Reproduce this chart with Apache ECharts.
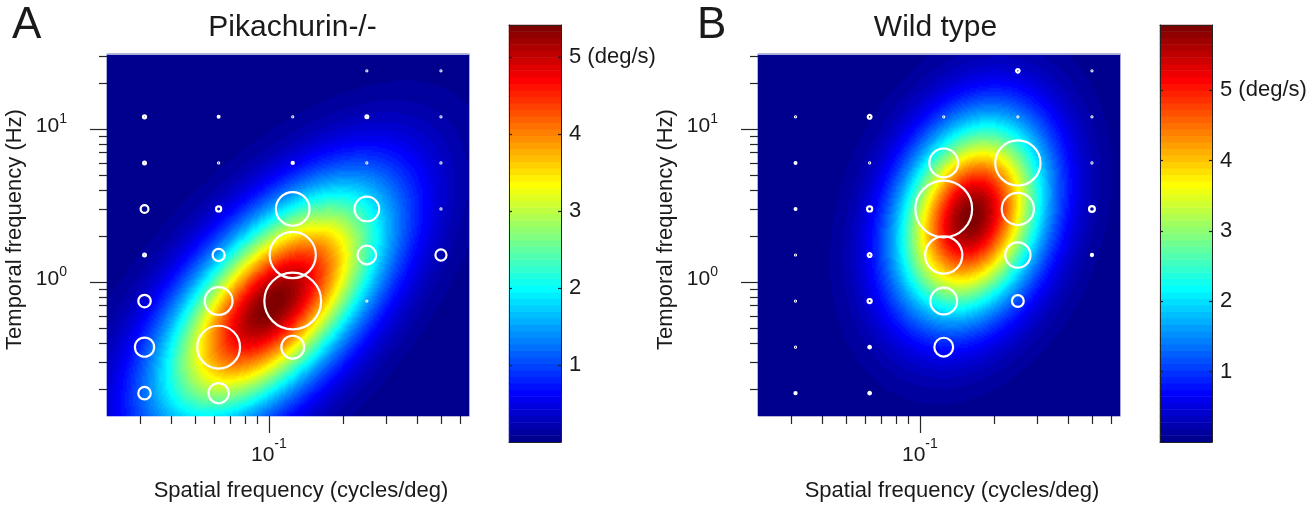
<!DOCTYPE html>
<html>
<head>
<meta charset="utf-8">
<script src="https://cdn.jsdelivr.net/npm/echarts@6/dist/echarts.min.js"></script>
<style>
html,body{margin:0;padding:0;background:#fff;}
#chart{width:1316px;height:508px;}
</style>
</head>
<body>
<div id="chart"></div>
<script>
// ---------------- data ----------------
const sfValues = [0.03125, 0.0625, 0.125, 0.25, 0.5];          // cycles/deg (columns)
const tfValues = [24, 12, 6, 3, 1.5, 0.75, 0.375, 0.1875];     // Hz (rows, top to bottom)
// response magnitudes (circle size); rows follow tfValues, columns follow sfValues
const respA = [
  [null, null, null, 1.5, 1.35],
  [2.65, 2.0, 1.35, 2.5, 1.35],
  [2.5, 1.65, 2.15, 1.35, 1.35],
  [5.0, 3.65, 17.9, 13.4, 1.35],
  [2.5, 7.15, 24.2, 10.4, 6.65],
  [7.35, 15.0, 29.5, 1.35, null],
  [10.7, 22.5, 12.5, null, null],
  [7.35, 11.2, null, null, null]
];
const respB = [
  [null, null, null, 2.85, 1.5],
  [1.65, 3.0, 1.15, 1.15, 1.5],
  [2.0, 1.15, 15.5, 23.7, 1.5],
  [2.0, 3.65, 29.5, 17.2, 4.0],
  [1.35, 3.0, 19.7, 13.7, 2.15],
  [1.35, 3.15, 14.5, 7.0, null],
  [1.5, 2.35, 10.5, null, null],
  [2.15, 2.35, null, null, null]
];
// fitted speed-tuning surfaces (parameters):
// [peak (deg/s), sf0 (c/deg), tf0 (Hz), sigma SF (oct), sigma TF (oct), xi]
const fitA = [5.42, 0.1034, 0.713, 1.0, 1.32, 1.05];
const fitB = [5.93, 0.162, 2.65, 0.66, 1.37, 0.5];
// axes
const sfRange = [0.0220, 0.650];
const tfRange = [0.133, 30.9];
const sfMajorTicks = [0.1];
const sfMinorTicks = [0.03, 0.04, 0.05, 0.06, 0.07, 0.08, 0.09, 0.2, 0.3, 0.4, 0.5, 0.6];
const tfMajorTicks = [1, 10];
const tfMinorTicks = [0.2, 0.3, 0.4, 0.5, 0.6, 0.7, 0.8, 0.9, 2, 3, 4, 5, 6, 7, 8, 9, 20, 30];
const cbTicks = [1, 2, 3, 4, 5];
const panelTitles = ['Pikachurin-/-', 'Wild type'];
const panelLetters = ['A', 'B'];
const xName = 'Spatial frequency (cycles/deg)';
const yName = 'Temporal frequency (Hz)';
const cbUnit = '(deg/s)';

// ---------------- layout ----------------
const FONT = "'Liberation Sans', Arial, Helvetica, sans-serif";
const TXT = '#1a1a1a';
const panelLeft = [107, 758];
const plotTop = 54, plotSize = 362;
const cbLeft = [509, 1160], cbTop = 25, cbW = 52, cbH = 417;
const titleCenter = [292.5, 935.5];
const letterLeft = [12, 697];
const NCELL = 181, NCOL = 64;

function surface(fit, sf, tf) {
  const [A, sf0, tf0, ssf, stf, xi] = fit;
  const u = Math.log2(sf / sf0);
  const v = Math.log2(tf / tf0) - xi * u;
  return A * Math.exp(-u * u / (2 * ssf * ssf) - v * v / (2 * stf * stf));
}
function jet(i) { // MATLAB jet(64), i = 1..64
  const c = x => Math.max(0, Math.min(1, x));
  const r = c(Math.min((i - 24) / 16, (72 - i) / 16));
  const g = c(Math.min((i - 8) / 16, (56 - i) / 16));
  const b = c(Math.min((i + 8) / 16, (40 - i) / 16));
  return 'rgb(' + Math.round(r * 255) + ',' + Math.round(g * 255) + ',' + Math.round(b * 255) + ')';
}
function pieces(max) {
  const p = [];
  for (let k = 0; k < NCOL; k++) {
    const piece = { color: jet(k + 1) };
    if (k > 0) piece.gte = k * max / NCOL;
    if (k < NCOL - 1) piece.lt = (k + 1) * max / NCOL;
    p.push(piece);
  }
  return p;
}

const lx = [Math.log10(sfRange[0]), Math.log10(sfRange[1])];
const ly = [Math.log10(tfRange[0]), Math.log10(tfRange[1])];
const cats = Array.from({ length: NCELL }, (_, i) => String(i));
const tickLine = { color: '#262626', width: 1.2 };

const grids = [], xAxes = [], yAxes = [], series = [], titles = [];
const heatIdx = [], cbIdx = [];

[respA, respB].forEach((resp, p) => {
  const fit = [fitA, fitB][p];
  const L = panelLeft[p];
  const gHeat = grids.length;
  grids.push({ left: L, top: plotTop, width: plotSize, height: plotSize });
  const gAx = grids.length;
  grids.push({ left: L, top: plotTop, width: plotSize, height: plotSize });

  const xh = xAxes.length;
  xAxes.push({ type: 'category', gridIndex: gHeat, data: cats, show: false });
  const yh = yAxes.length;
  yAxes.push({ type: 'category', gridIndex: gHeat, data: cats, show: false });

  const base = { type: 'value', gridIndex: gAx, splitLine: { show: false }, axisLine: { show: false, onZero: false } };
  // x axes
  xAxes.push(Object.assign({}, base, {
    min: lx[0], max: lx[1], position: 'bottom',
    axisTick: { show: true, customValues: sfMinorTicks.map(Math.log10), length: 8, lineStyle: tickLine },
    axisLabel: { show: false }
  }));
  const xm = xAxes.length;
  xAxes.push(Object.assign({}, base, {
    min: lx[0], max: lx[1], position: 'bottom',
    axisTick: { show: true, customValues: sfMajorTicks.map(Math.log10), length: 17, lineStyle: tickLine },
    axisLabel: {
      show: true, customValues: sfMajorTicks.map(Math.log10), margin: 25,
      formatter: v => '{b|10}{s|' + Math.round(v) + '}',
      rich: {
        b: { fontSize: 21, lineHeight: 21, padding: [8, 0, 0, 0], fontFamily: FONT, color: TXT },
        s: { fontSize: 14, lineHeight: 14, padding: [0, 0, 15, 0], fontFamily: FONT, color: TXT }
      }
    },
    name: xName, nameLocation: 'middle', nameGap: 64,
    nameTextStyle: { fontSize: 22, fontFamily: FONT, color: TXT, padding: [0, 0, 0, 26] }
  }));
  xAxes.push(Object.assign({}, base, {
    min: lx[0], max: lx[1], position: 'top', z: 5,
    axisLine: { show: true, onZero: false, lineStyle: { color: '#a8a8dc', width: 1 } },
    axisTick: { show: false }, axisLabel: { show: false }
  }));
  // y axes
  yAxes.push(Object.assign({}, base, {
    min: ly[0], max: ly[1], position: 'left',
    axisTick: { show: true, customValues: tfMinorTicks.map(Math.log10), length: 8, lineStyle: tickLine },
    axisLabel: { show: false }
  }));
  const ym = yAxes.length;
  yAxes.push(Object.assign({}, base, {
    min: ly[0], max: ly[1], position: 'left',
    axisTick: { show: true, customValues: tfMajorTicks.map(Math.log10), length: 17, lineStyle: tickLine },
    axisLabel: {
      show: true, customValues: tfMajorTicks.map(Math.log10), margin: 40,
      padding: [0, 0, 9, 0],
      formatter: v => '{b|10}{s|' + Math.round(v) + '}',
      rich: {
        b: { fontSize: 21, lineHeight: 21, padding: [3, 0, 0, 0], fontFamily: FONT, color: TXT },
        s: { fontSize: 14, lineHeight: 14, padding: [0, 0, 10, 0], fontFamily: FONT, color: TXT }
      }
    },
    name: yName, nameLocation: 'middle', nameGap: 81,
    nameTextStyle: { fontSize: 22, fontFamily: FONT, color: TXT, padding: [0, 0, 0, 11] }
  }));
  yAxes.push(Object.assign({}, base, {
    min: ly[0], max: ly[1], position: 'right', z: 5,
    axisLine: { show: true, onZero: false, lineStyle: { color: '#a8a8dc', width: 1 } },
    axisTick: { show: false }, axisLabel: { show: false }
  }));

  // heatmap of the fitted surface
  const heat = [];
  for (let i = 0; i < NCELL; i++) {
    const sf = Math.pow(10, lx[0] + (i + 0.5) * (lx[1] - lx[0]) / NCELL);
    for (let j = 0; j < NCELL; j++) {
      const tf = Math.pow(10, ly[0] + (j + 0.5) * (ly[1] - ly[0]) / NCELL);
      heat.push([i, j, surface(fit, sf, tf)]);
    }
  }
  heatIdx.push(series.length);
  series.push({ type: 'heatmap', xAxisIndex: xh, yAxisIndex: yh, data: heat, progressive: 0, silent: true, emphasis: { disabled: true } });

  // response circles
  const pts = [];
  tfValues.forEach((tf, r) => sfValues.forEach((sf, c) => {
    const v = resp[r][c];
    if (v != null) pts.push([Math.log10(sf), Math.log10(tf), v]);
  }));
  series.push({
    type: 'scatter', xAxisIndex: xm, yAxisIndex: ym, data: pts, symbol: 'circle', silent: true, z: 4,
    symbolSize: val => Math.max(2 * val[2] - 2.2, 1),
    itemStyle: { color: 'rgba(0,0,0,0)', borderColor: '#ffffff', borderWidth: 2.2, opacity: 1 }
  });

  titles.push({ text: panelTitles[p], left: titleCenter[p], top: 13, textAlign: 'center', padding: 0,
    textStyle: { fontSize: 30, fontWeight: 'normal', fontFamily: FONT, color: TXT } });
  titles.push({ text: panelLetters[p], left: letterLeft[p], top: 4, padding: 0,
    textStyle: { fontSize: 44, fontWeight: 'normal', fontFamily: FONT, color: TXT } });
});

// colorbars
[fitA, fitB].forEach((fit, p) => {
  const max = fit[0];
  const gH = grids.length;
  grids.push({ left: cbLeft[p], top: cbTop, width: cbW, height: cbH });
  const gF = grids.length;
  grids.push({ left: cbLeft[p], top: cbTop, width: cbW, height: cbH });
  const xh = xAxes.length;
  xAxes.push({ type: 'category', gridIndex: gH, data: ['0'], show: false });
  const yh = yAxes.length;
  yAxes.push({ type: 'category', gridIndex: gH, data: Array.from({ length: NCOL }, (_, i) => String(i)), show: false });
  const frame = { show: true, onZero: false, lineStyle: { color: '#222', width: 1 } };
  ['bottom', 'top'].forEach(pos => xAxes.push({
    type: 'value', gridIndex: gF, min: 0, max: 1, position: pos, z: 5,
    axisLine: frame, axisTick: { show: false }, axisLabel: { show: false }, splitLine: { show: false }
  }));
  ['left', 'right'].forEach(pos => yAxes.push({
    type: 'value', gridIndex: gF, min: 0, max: max, position: pos, z: 5,
    axisLine: frame, splitLine: { show: false },
    axisTick: { show: true, inside: true, length: 3, customValues: cbTicks, lineStyle: { color: '#222', width: 1.2 } },
    axisLabel: pos === 'right' ? {
      show: true, customValues: cbTicks, margin: 8, fontSize: 22, fontFamily: FONT, color: TXT,
      formatter: v => (v === cbTicks[cbTicks.length - 1] ? v + ' ' + cbUnit : String(v))
    } : { show: false }
  }));
  const d = [];
  for (let j = 0; j < NCOL; j++) d.push([0, j, (j + 0.5) * max / NCOL]);
  cbIdx.push(series.length);
  series.push({ type: 'heatmap', xAxisIndex: xh, yAxisIndex: yh, data: d, progressive: 0, silent: true, emphasis: { disabled: true } });
});

const option = {
  animation: false,
  backgroundColor: '#ffffff',
  textStyle: { fontFamily: FONT },
  title: titles,
  grid: grids,
  xAxis: xAxes,
  yAxis: yAxes,
  visualMap: [
    { type: 'piecewise', show: false, dimension: 2, seriesIndex: [heatIdx[0], cbIdx[0]], pieces: pieces(fitA[0]) },
    { type: 'piecewise', show: false, dimension: 2, seriesIndex: [heatIdx[1], cbIdx[1]], pieces: pieces(fitB[0]) }
  ],
  series: series
};
const chart = echarts.init(document.getElementById('chart'), null, { renderer: 'canvas' });
chart.setOption(option);
</script>
</body>
</html>
